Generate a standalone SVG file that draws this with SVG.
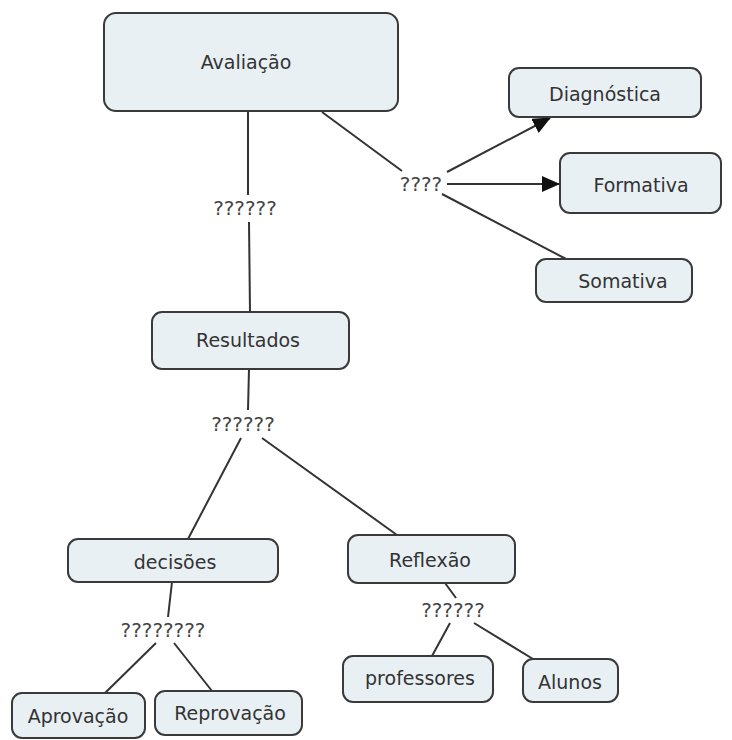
<svg xmlns="http://www.w3.org/2000/svg" width="732" height="740" viewBox="0 0 732 740">
<defs>
<marker id="arr" markerWidth="18" markerHeight="16" refX="17" refY="8" orient="auto" markerUnits="userSpaceOnUse" viewBox="0 0 18 16">
<path d="M0,0 L18,8 L0,16 z" fill="#111"/>
</marker>
<style>
.box{fill:#e9f0f3;stroke:#3a3a3a;stroke-width:2}
.t{font-family:"DejaVu Sans",Verdana,sans-serif;font-size:19px;fill:#333;text-anchor:middle;dominant-baseline:central}
.lbl{font-family:"DejaVu Sans",Verdana,sans-serif;font-size:20px;fill:#444;text-anchor:middle;dominant-baseline:central}
.c{stroke:#333;stroke-width:2;fill:none}
</style>
</defs>
<rect width="732" height="740" fill="#fff"/>
<g id="connectors">
<line class="c" x1="248" y1="111" x2="248" y2="195"/>
<line class="c" x1="249" y1="222" x2="250" y2="312"/>
<line class="c" x1="322" y1="112" x2="402" y2="171"/>
<line class="c" x1="447" y1="172" x2="550" y2="118" marker-end="url(#arr)"/>
<line class="c" x1="447" y1="184" x2="559" y2="184" marker-end="url(#arr)"/>
<line class="c" x1="442" y1="194" x2="568" y2="260"/>
<line class="c" x1="249" y1="369" x2="248" y2="410"/>
<line class="c" x1="241" y1="438" x2="188" y2="539"/>
<line class="c" x1="262" y1="438" x2="397" y2="535"/>
<line class="c" x1="172" y1="582" x2="168" y2="617"/>
<line class="c" x1="156" y1="643" x2="105" y2="693"/>
<line class="c" x1="174" y1="643" x2="212" y2="691"/>
<line class="c" x1="445" y1="583" x2="456" y2="598"/>
<line class="c" x1="450" y1="623" x2="432" y2="656"/>
<line class="c" x1="474" y1="623" x2="533" y2="659"/>
</g>
<g id="labels">
<text class="lbl" x="245" y="208">??????</text>
<text class="lbl" x="421" y="184">????</text>
<text class="lbl" x="243" y="424">??????</text>
<text class="lbl" x="163" y="630">????????</text>
<text class="lbl" x="453" y="610">??????</text>
</g>
<g id="avaliacao"><rect class="box" x="104" y="13" width="294" height="98" rx="12"/><text class="t" x="246" y="62">Avaliação</text></g>
<g id="diagnostica"><rect class="box" x="509" y="68" width="192" height="49" rx="10"/><text class="t" x="605" y="94">Diagnóstica</text></g>
<g id="formativa"><rect class="box" x="560" y="153" width="161" height="60" rx="10"/><text class="t" x="641" y="185">Formativa</text></g>
<g id="somativa"><rect class="box" x="536" y="259" width="156" height="43" rx="10"/><text class="t" x="623" y="281">Somativa</text></g>
<g id="resultados"><rect class="box" x="152" y="312" width="197" height="57" rx="10"/><text class="t" x="248" y="340">Resultados</text></g>
<g id="decisoes"><rect class="box" x="68" y="539" width="210" height="43" rx="10"/><text class="t" x="175" y="562">decisões</text></g>
<g id="reflexao"><rect class="box" x="348" y="535" width="167" height="48" rx="10"/><text class="t" x="430" y="560">Reflexão</text></g>
<g id="aprovacao"><rect class="box" x="12" y="693" width="133" height="45" rx="10"/><text class="t" x="78" y="716">Aprovação</text></g>
<g id="reprovacao"><rect class="box" x="155" y="691" width="147" height="44" rx="10"/><text class="t" x="230" y="713">Reprovação</text></g>
<g id="professores"><rect class="box" x="343" y="656" width="150" height="46" rx="10"/><text class="t" x="420" y="678">professores</text></g>
<g id="alunos"><rect class="box" x="523" y="659" width="95" height="43" rx="10"/><text class="t" x="570" y="682">Alunos</text></g>
</svg>
